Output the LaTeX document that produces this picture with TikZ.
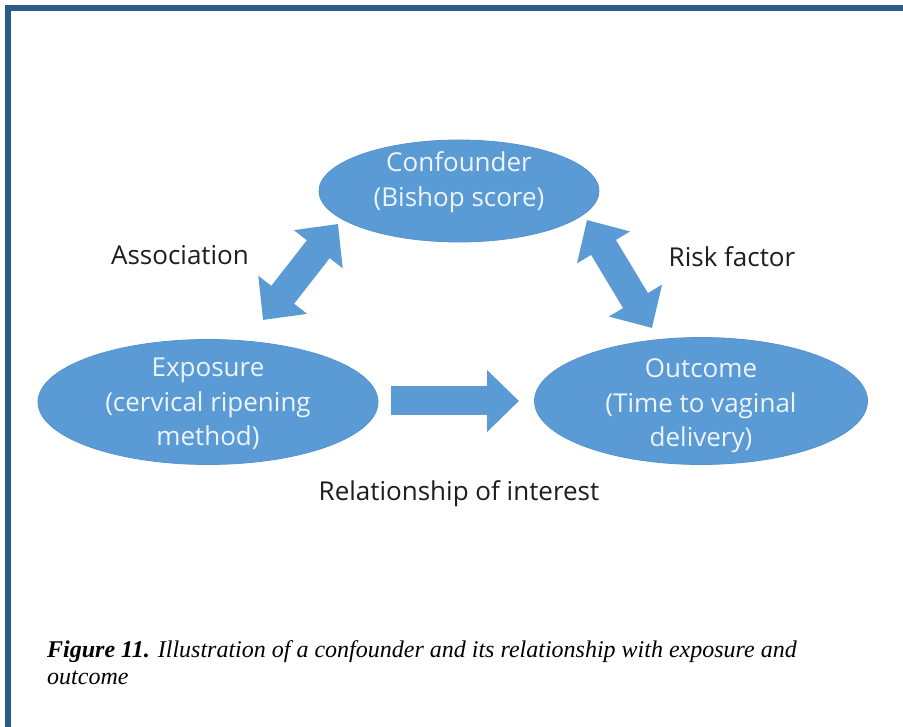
\documentclass[tikz,border=0pt]{standalone}
\usepackage{fontspec}
\setmainfont{Open Sans}
\newfontfamily\capfont{Liberation Serif}
\usetikzlibrary{arrows.meta,shapes.geometric}
\definecolor{frameblue}{HTML}{2B5A8B}
\definecolor{shapeblue}{HTML}{5B9BD5}
\definecolor{shapeedge}{HTML}{5693CB}
\definecolor{shapetext}{HTML}{EEF4FB}
\definecolor{labeltext}{HTML}{1E1E1E}
\tikzset{
  bubble/.style={ellipse, fill=shapeblue, draw=shapeedge, line width=0.8pt,
    inner sep=0pt},
  bubbletext/.style={text=shapetext, align=center, inner sep=0pt,
    font=\fontsize{26}{34.5}\selectfont},
  caption/.style={anchor=base west, inner sep=0pt, text=black,
    font=\capfont\fontsize{24}{26}\selectfont},
  relabel/.style={text=labeltext, inner sep=0pt, font=\fontsize{26}{30}\selectfont},
  blockarrow/.style={shapeblue, line width=29pt,
    -{Triangle[length=32pt,width=60pt]}},
  dblockarrow/.style={shapeblue, line width=29pt,
    {Triangle[length=32pt,width=60pt]}-{Triangle[length=32pt,width=60pt]}},
}
\begin{document}
\begin{tikzpicture}[x=1pt,y=-1pt]
\useasboundingbox (0,0) rectangle (903,727);
\fill[white] (0,0) rectangle (903,727);
% page frame: top and left rules
\fill[frameblue] (5,5) rectangle (903,11);
\fill[frameblue] (5,5) rectangle (11,727);

% the three factors
\node[bubble, minimum width=280pt, minimum height=102pt] (conf) at (459,191) {};
\node[bubble, minimum width=340pt, minimum height=125pt] (expo) at (208,402) {};
\node[bubble, minimum width=333pt, minimum height=127pt] (outc) at (701,401) {};
\node[bubbletext] (conftext) at (459,182) {Confounder\\(Bishop score)};
\node[bubbletext] (expotext) at (208,404) {Exposure\\(cervical ripening\\method)};
\node[bubbletext] (outctext) at (701,406) {Outcome\\(Time to vaginal\\delivery)};

% block-arrow end points
\coordinate (assocA) at (263,320);
\coordinate (assocB) at (338,224);
\coordinate (riskA)  at (587,220);
\coordinate (riskB)  at (652,328);
\coordinate (relA)   at (391,401);
\coordinate (relB)   at (519,401);

\draw[dblockarrow] (assocA) -- (assocB);
\draw[dblockarrow] (riskA) -- (riskB);
\draw[blockarrow] (relA) -- (relB);

% labels
\node[relabel] (lassoc) at (180,255) {Association};
\node[relabel] (lrisk) at (732,257) {Risk factor};
\node[relabel] (lrel) at (459,494) {Relationship of interest};

% caption
\node[caption] (cap1) at (47,657)
  {\textbf{\textit{Figure 11.}} \textit{Illustration of a confounder and its relationship with exposure and}};
\node[caption] (cap2) at (47,684) {\textit{outcome}};
\end{tikzpicture}
\end{document}
